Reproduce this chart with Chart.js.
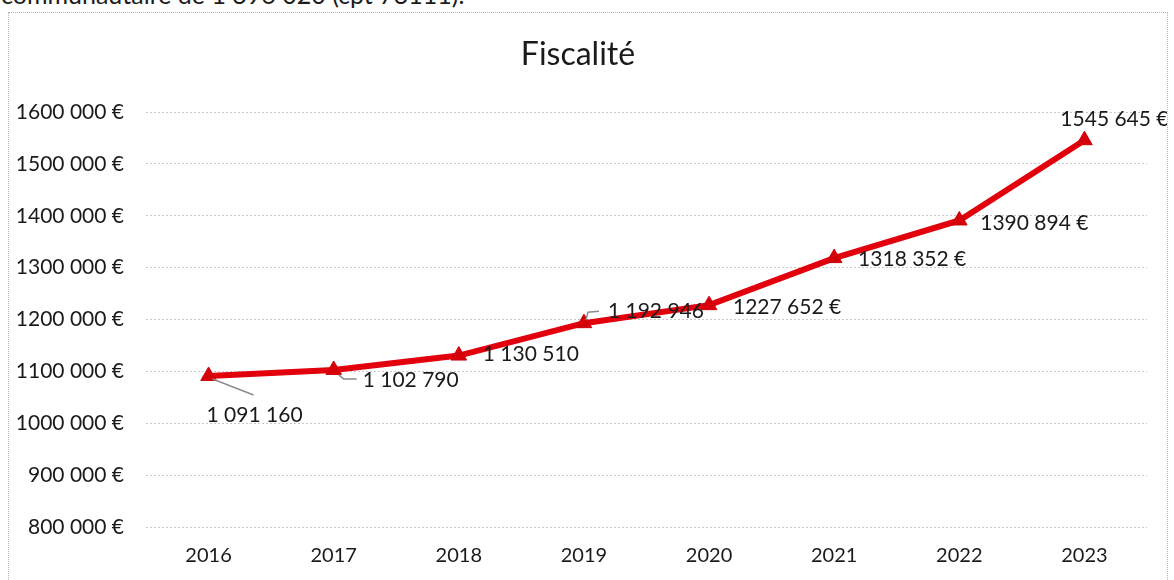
<!DOCTYPE html>
<html lang="fr">
<head>
<meta charset="utf-8">
<title>Fiscalité</title>
<script src="https://cdn.jsdelivr.net/npm/chart.js@4.4.1/dist/chart.umd.min.js"></script>
<style>
    html, body {
        margin: 0;
        padding: 0;
        width: 1174px;
        height: 580px;
        overflow: hidden;
        background: #fefefe;
        font-family: Lato, "Noto Sans", sans-serif;
    }
    .intro {
        position: absolute;
        left: 1px;
        top: -19px;
        font-size: 25px;
        line-height: 27px;
        color: #1c1c1c;
        white-space: nowrap;
    }
    .chart-box {
        position: absolute;
        left: 8px;
        top: 12px;
        width: 1160px;
        height: 600px;
        box-sizing: border-box;
        border: 1px dotted #b9b9b9;
        background: #fff;
    }
</style>
</head>
<body>
<div class="intro">communautaire de 1 396 020 (cpt 73111).</div>
<div class="chart-box">
    <canvas id="fiscaliteChart"></canvas>
</div>
<script>
// Fiscal revenue per year
const years = ['2016', '2017', '2018', '2019', '2020', '2021', '2022', '2023'];
const fiscalite = [1091160, 1102790, 1130510, 1192946, 1227652, 1318352, 1390894, 1545645];
// true -> "1227 652 €" style, false -> "1 091 160" style
const withEuro = [false, false, false, false, true, true, true, true];
const yTicks = [800000, 900000, 1000000, 1100000, 1200000, 1300000, 1400000, 1500000, 1600000];

// label placement relative to each point (dx, dy) and optional leader line
const labelOffsets = [[46, 39], [77, 10], [72, -1], [72, -12], [78, 2], [78, 1], [75, 3], [30, -21]];
const leaders = [
    [[4, 3], [45, 19]],
    [[5, 5], [10, 9], [23, 9]],
    null,
    [[2, -3], [4, -11], [15, -12]],
    null, null, null, null
];

function euro(v) {
    const thousands = Math.floor(v / 1000);
    const rest = String(v % 1000).padStart(3, '0');
    return (thousands > 0 ? thousands + ' ' + rest : String(v)) + ' €';
}

function grouped(v) {
    return String(v).replace(/\B(?=(\d{3})+(?!\d))/g, ' ');
}

const pointLabels = {
    id: 'pointLabels',
    afterDatasetsDraw(chart) {
        const ctx = chart.ctx;
        const meta = chart.getDatasetMeta(0);
        ctx.save();
        meta.data.forEach((pt, i) => {
            const lead = leaders[i];
            if (lead) {
                ctx.beginPath();
                ctx.strokeStyle = '#8c8c8c';
                ctx.lineWidth = 1.5;
                lead.forEach((p, j) => {
                    if (j === 0) ctx.moveTo(pt.x + p[0], pt.y + p[1]);
                    else ctx.lineTo(pt.x + p[0], pt.y + p[1]);
                });
                ctx.stroke();
            }
            const v = fiscalite[i];
            const text = withEuro[i] ? euro(v) : grouped(v);
            ctx.font = '21px Lato, "Noto Sans", sans-serif';
            ctx.fillStyle = '#1a1a1a';
            ctx.textAlign = 'center';
            ctx.textBaseline = 'middle';
            ctx.fillText(text, pt.x + labelOffsets[i][0], pt.y + labelOffsets[i][1]);
        });
        ctx.restore();
    }
};

new Chart(document.getElementById('fiscaliteChart'), {
    type: 'line',
    data: {
        labels: years,
        datasets: [{
            label: 'Fiscalité',
            data: fiscalite,
            borderColor: '#e2000c',
            backgroundColor: '#d6000a',
            borderWidth: 6,
            tension: 0,
            pointStyle: 'triangle',
            pointRadius: 9,
            pointBorderWidth: 1,
            pointBorderColor: '#cc0008',
            fill: false
        }]
    },
    options: {
        responsive: true,
        maintainAspectRatio: false,
        animation: false,
        layout: {
            padding: { left: 0, right: 20, top: 0, bottom: 24 }
        },
        plugins: {
            legend: { display: false },
            tooltip: { enabled: false },
            title: {
                display: true,
                text: 'Fiscalité',
                color: '#1a1a1a',
                font: { family: 'Lato, "Noto Sans", sans-serif', size: 32, weight: 'normal' },
                padding: { top: 22, bottom: 38.6 }
            }
        },
        scales: {
            x: {
                offset: true,
                grid: { display: false, drawTicks: false },
                border: { display: false },
                ticks: {
                    color: '#1a1a1a',
                    padding: 17,
                    font: { family: 'Lato, "Noto Sans", sans-serif', size: 20 }
                },
                afterFit(scale) { scale.height = 60; }
            },
            y: {
                min: 800000,
                max: 1600000,
                afterBuildTicks(scale) {
                    scale.ticks = yTicks.map(v => ({ value: v }));
                },
                grid: {
                    color: '#c9c9c9',
                    lineWidth: 1,
                    drawTicks: false
                },
                border: { display: false, dash: [2, 2] },
                ticks: {
                    color: '#1a1a1a',
                    padding: 22,
                    font: { family: 'Lato, "Noto Sans", sans-serif', size: 21 },
                    callback: (v) => euro(v)
                },
                afterFit(scale) { scale.width = 137; }
            }
        }
    },
    plugins: [pointLabels]
});
</script>
</body>
</html>
